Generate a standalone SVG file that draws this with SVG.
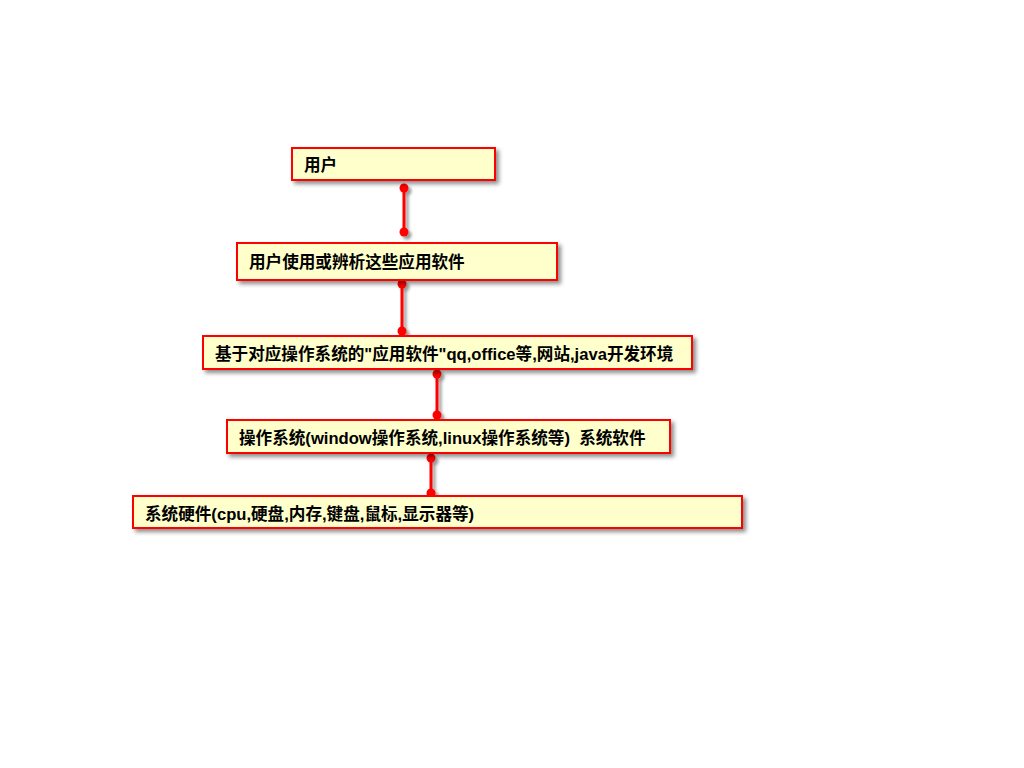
<svg xmlns="http://www.w3.org/2000/svg" width="1024" height="768" viewBox="0 0 1024 768">
<defs>
<filter id="sh" x="-10%" y="-30%" width="120%" height="170%">
<feDropShadow dx="3" dy="3" stdDeviation="2" flood-color="#000" flood-opacity="0.45"/>
</filter>
<filter id="shc" filterUnits="userSpaceOnUse" x="0" y="0" width="1024" height="768">
<feDropShadow dx="3" dy="3" stdDeviation="1.5" flood-color="#000" flood-opacity="0.4"/>
</filter>
<marker id="dot" markerWidth="10" markerHeight="10" refX="5" refY="5" markerUnits="userSpaceOnUse">
<circle cx="5" cy="5" r="4.5" fill="#ff0000"/>
</marker>
</defs>
<style>
.box{fill:#ffffcc;stroke:#ff0000;stroke-width:2;filter:url(#sh)}
.t{font-family:"Liberation Sans","Noto Sans CJK SC",sans-serif;font-weight:bold;font-size:16.6px;fill:#000}
.c{stroke:#ff0000;stroke-width:3;fill:none;marker-start:url(#dot);marker-end:url(#dot)}
</style>
<rect width="1024" height="768" fill="#fff"/>
<g id="connectors" filter="url(#shc)">
<path class="c" d="M404 188V232"/>
<path class="c" d="M402 284V331"/>
<path class="c" d="M437 374V415"/>
<path class="c" d="M431 458V493"/>
</g>
<g id="n1"><rect class="box" x="292" y="148" width="203" height="32"/><text class="t" x="304" y="171">用户</text></g>
<g id="n2"><rect class="box" x="237" y="243" width="320" height="37"/><text class="t" x="249" y="268">用户使用或辨析这些应用软件</text></g>
<g id="n3"><rect class="box" x="203" y="336" width="489" height="33"/><text class="t" x="215" y="360">基于对应操作系统的"应用软件"qq,office等,网站,java开发环境</text></g>
<g id="n4"><rect class="box" x="227" y="420" width="443" height="33"/><text class="t" x="239" y="444" xml:space="preserve">操作系统(window操作系统,linux操作系统等)  系统软件</text></g>
<g id="n5"><rect class="box" x="133" y="496" width="609" height="32"/><text class="t" x="145" y="520">系统硬件(cpu,硬盘,内存,键盘,鼠标,显示器等)</text></g>
</svg>
